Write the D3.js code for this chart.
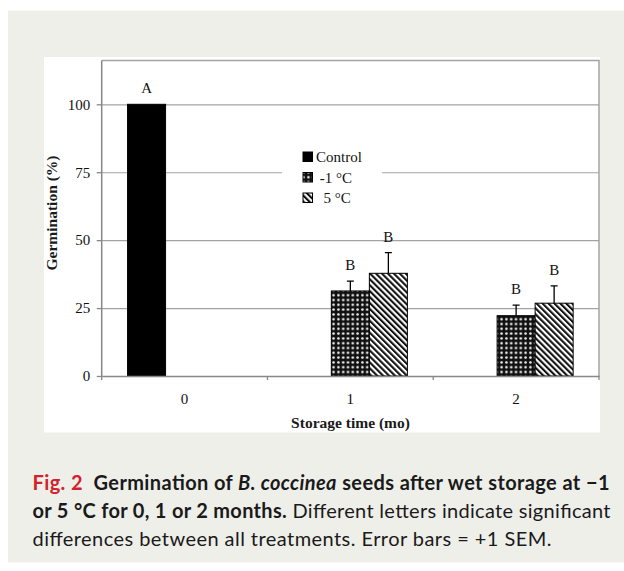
<!DOCTYPE html>
<html>
<head>
<meta charset="utf-8">
<script src="https://cdn.jsdelivr.net/npm/d3@7"></script>
<style>
body { margin: 0; background: #ffffff; }
svg text { white-space: pre; }
</style>
</head>
<body>
<div id="fig"></div>
<script>
// chart values
var categories = ["0", "1", "2"];
var seriesNames = ["Control", "-1 °C", "5 °C"];
var legendLabels = ["Control", " -1 °C", "  5 °C"];
var controlVals = [100, null, null];
var minus1Vals = [null, 31.3, 22.2];
var plus5Vals = [null, 37.8, 26.8];
var controlSem = [null, null, null];
var minus1Sem = [null, 3.6, 3.9];
var plus5Sem = [null, 7.6, 6.4];
var controlLetters = ["A", "", ""];
var minus1Letters = ["", "B", "B"];
var plus5Letters = ["", "B", "B"];
var yTicks = [0, 25, 50, 75, 100];
var gridTicks = [25, 50, 75, 100];
var yTitle = "Germination (%)";
var xTitle = "Storage time (mo)";

var width = 624;
var height = 571;
var plot = {left: 101.7, right: 599, top: 60.5, bottom: 376};
var serif = "'Liberation Serif', 'Times New Roman', serif";
var sans = "Lato, 'Noto Sans', sans-serif";

var svg = d3.select("#fig").append("svg")
    .attr("width", width)
    .attr("height", height);

var defs = svg.append("defs");
var dots = defs.append("pattern").attr("id", "dots")
    .attr("patternUnits", "userSpaceOnUse")
    .attr("width", 4.8).attr("height", 4.8);
dots.append("rect").attr("width", 4.8).attr("height", 4.8).attr("fill", "#111");
dots.append("circle").attr("cx", 2.4).attr("cy", 2.4).attr("r", 1.25).attr("fill", "#fff");

var stripes = defs.append("pattern").attr("id", "stripes")
    .attr("patternUnits", "userSpaceOnUse")
    .attr("width", 4.2).attr("height", 4.2)
    .attr("patternTransform", "rotate(-45)");
stripes.append("rect").attr("width", 4.2).attr("height", 4.2).attr("fill", "#fff");
stripes.append("rect").attr("width", 2.1).attr("height", 4.2).attr("fill", "#111");

var fills = ["#000", "url(#dots)", "url(#stripes)"];

// panel + white chart box
svg.append("rect").attr("x", 8).attr("y", 10.5).attr("width", width - 8).attr("height", 552)
    .attr("fill", "#efefea");
svg.append("rect").attr("x", 44).attr("y", 57).attr("width", 556).attr("height", 375.5)
    .attr("fill", "#ffffff");

var y = d3.scaleLinear().domain([0, 100]).range([plot.bottom, 104.3]);
var x = d3.scaleBand().domain(categories).range([plot.left, plot.right]).padding(0);
var xs = d3.scaleBand().domain(seriesNames).range([0, x.bandwidth()])
    .paddingInner(0).paddingOuter(0.68);

// gridlines
svg.append("g").attr("class", "grid")
    .attr("transform", "translate(" + plot.left + ",0)")
    .call(d3.axisLeft(y).tickValues(gridTicks).tickSize(-(plot.right - plot.left)).tickFormat(""))
    .call(function(g){ g.select(".domain").remove(); })
    .selectAll("line").attr("stroke", "#a3a3a3").attr("stroke-width", 1.2);

// frame top and right
svg.append("path")
    .attr("d", "M" + plot.left + "," + plot.top + "H" + plot.right + "V" + plot.bottom)
    .attr("fill", "none").attr("stroke", "#a3a3a3").attr("stroke-width", 1.5);

// legend box (hides the 75 gridline behind it)
var legend = svg.append("g").attr("transform", "translate(282,146)");
legend.append("rect").attr("width", 100).attr("height", 60).attr("fill", "#fff");
seriesNames.forEach(function(s, i){
    var ly = 11 + i * 20.5;
    legend.append("rect").attr("x", 21).attr("y", ly - 5).attr("width", 9.5).attr("height", 9.5)
        .attr("fill", fills[i]).attr("stroke", "#000").attr("stroke-width", 1);
    legend.append("text").attr("x", 34).attr("y", ly + 5)
        .text(legendLabels[i])
        .style("font-family", serif).style("font-size", "15px").attr("fill", "#111");
});

// rows
var vals = [controlVals, minus1Vals, plus5Vals];
var sems = [controlSem, minus1Sem, plus5Sem];
var letters = [controlLetters, minus1Letters, plus5Letters];
var rows = [];
for (let s = 0; s < seriesNames.length; s++) {
    for (let i = 0; i < categories.length; i++) {
        if (vals[s][i] == null) continue;
        rows.push({s: s, series: seriesNames[s], cat: categories[i], value: vals[s][i],
                   sem: sems[s][i], letter: letters[s][i]});
    }
}

var bx = function(d){ return x(d.cat) + xs(d.series); };

svg.selectAll(".bar").data(rows).enter().append("rect")
    .attr("class", "bar")
    .attr("x", bx)
    .attr("y", function(d){ return y(d.value); })
    .attr("width", xs.bandwidth())
    .attr("height", function(d){ return y(0) - y(d.value); })
    .attr("fill", function(d){ return fills[d.s]; })
    .attr("stroke", "#000").attr("stroke-width", 1);

var errs = rows.filter(function(d){ return d.sem != null; });
svg.selectAll(".err").data(errs).enter().append("path")
    .attr("class", "err")
    .attr("d", function(d){
        var cx = bx(d) + xs.bandwidth() / 2;
        var top = y(d.value + d.sem);
        return "M" + cx + "," + y(d.value) + "V" + top + "M" + (cx - 3.5) + "," + top + "H" + (cx + 3.5);
    })
    .attr("fill", "none").attr("stroke", "#000").attr("stroke-width", 1.3);

svg.selectAll(".letter").data(rows).enter().append("text")
    .attr("class", "letter")
    .attr("x", function(d){ return bx(d) + xs.bandwidth() / 2; })
    .attr("y", function(d){ return y(d.value + (d.sem || 0)) - 11; })
    .attr("text-anchor", "middle")
    .style("font-family", serif).style("font-size", "15px").attr("fill", "#111")
    .text(function(d){ return d.letter; });

// y axis
var yAxis = svg.append("g")
    .attr("transform", "translate(" + plot.left + ",0)")
    .call(d3.axisLeft(y).tickValues(yTicks).tickSize(5).tickSizeOuter(0).tickPadding(6.5));
yAxis.select(".domain").attr("d", "M0," + plot.bottom + "V" + plot.top)
    .attr("stroke", "#888").attr("stroke-width", 1.5);
yAxis.selectAll("line").attr("stroke", "#888").attr("stroke-width", 1.3);
yAxis.selectAll("text").style("font-family", serif).style("font-size", "15px").attr("fill", "#111");

// x axis: labels at centres, ticks on category boundaries
var xAxis = svg.append("g")
    .attr("transform", "translate(0," + plot.bottom + ")")
    .call(d3.axisBottom(x).tickSize(0).tickPadding(17));
xAxis.select(".domain").attr("stroke", "#888").attr("stroke-width", 1.5);
xAxis.selectAll("text").style("font-family", serif).style("font-size", "15px").attr("fill", "#111");
var edges = categories.map(function(c){ return x(c); }).concat([plot.right]);
xAxis.selectAll(".edge").data(edges).enter().append("line")
    .attr("class", "edge")
    .attr("x1", function(d){ return d; }).attr("x2", function(d){ return d; })
    .attr("y1", 0).attr("y2", 4)
    .attr("stroke", "#888").attr("stroke-width", 1.3);

// axis titles
svg.append("text")
    .attr("transform", "translate(56.5,213) rotate(-90)")
    .attr("text-anchor", "middle")
    .style("font-family", serif).style("font-size", "15.5px").style("font-weight", "bold")
    .attr("fill", "#1a1a1a")
    .text(yTitle);
svg.append("text")
    .attr("x", 350.5).attr("y", 428)
    .attr("text-anchor", "middle")
    .style("font-family", serif).style("font-size", "15.5px").style("font-weight", "bold")
    .attr("fill", "#1a1a1a")
    .text(xTitle);

// caption
var cap = svg.append("g").style("font-family", sans).style("font-size", "20px").attr("fill", "#1a1a1a");
var l1 = cap.append("text").attr("x", 32.5).attr("y", 490)
    .attr("textLength", 577).attr("lengthAdjust", "spacing");
l1.append("tspan").attr("fill", "#d3222c").style("font-weight", "bold").text("Fig. 2");
l1.append("tspan").style("font-weight", "bold").text("  Germination of ");
l1.append("tspan").style("font-weight", "bold").style("font-style", "italic").text("B. coccinea");
l1.append("tspan").style("font-weight", "bold").text(" seeds after wet storage at \u22121");

var l2 = cap.append("text").attr("x", 32.5).attr("y", 517.7)
    .attr("textLength", 578).attr("lengthAdjust", "spacing");
l2.append("tspan").style("font-weight", "bold").text("or 5 \u00b0C for 0, 1 or 2 months.");
l2.append("tspan").text(" Different letters indicate significant");

cap.append("text").attr("x", 32.5).attr("y", 545.7)
    .attr("textLength", 519).attr("lengthAdjust", "spacing")
    .text("differences between all treatments. Error bars = +1 SEM.");
</script>
</body>
</html>
